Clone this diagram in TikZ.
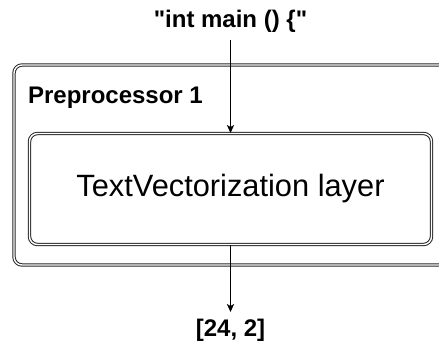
\documentclass[tikz,border=0pt]{standalone}
\usepackage{fontspec}
\setmainfont{Liberation Sans}
\usetikzlibrary{positioning,arrows.meta}

\tikzset{
	dbl/.style={draw=black!85, line width=0.5pt, double=white, double distance=0.7pt},
	group/.style={dbl, rounded corners=4pt, minimum width=233pt, minimum height=100pt, anchor=north west},
	layer/.style={dbl, rounded corners=4pt, minimum width=201pt, minimum height=55.5pt,
		font=\fontsize{15.4}{18}\selectfont},
	lbl/.style={font=\fontsize{12}{14}\selectfont\bfseries},
	flow/.style={draw=black, line width=0.5pt, -{Stealth[length=4pt,width=3.6pt,inset=1pt]}}
}

\begin{document}
\begin{tikzpicture}[x=0.5pt, y=-0.5pt]
		
		\clip (0,0) rectangle (439,345);
		
		% Define nodes
		\node[group]                         (pre) at (13.5,64.5) {};
		\node[lbl, anchor=base west]         (pre_name) at (21,103) {Preprocessor 1};
		\node[layer]                         (vec) at (230.5,189) {TextVectorization layer};
		\node[lbl, above=46.5pt of vec]      (in) {\textquotedbl int main () \{\textquotedbl};
		\node[lbl, below=33.5pt of vec]      (out) {[24, 2]};
		
		% Connect the nodes
		\draw[flow] (in) -- (vec) ; %
		\draw[flow] (vec) -- (out) ; %
		
\end{tikzpicture}
\end{document}
